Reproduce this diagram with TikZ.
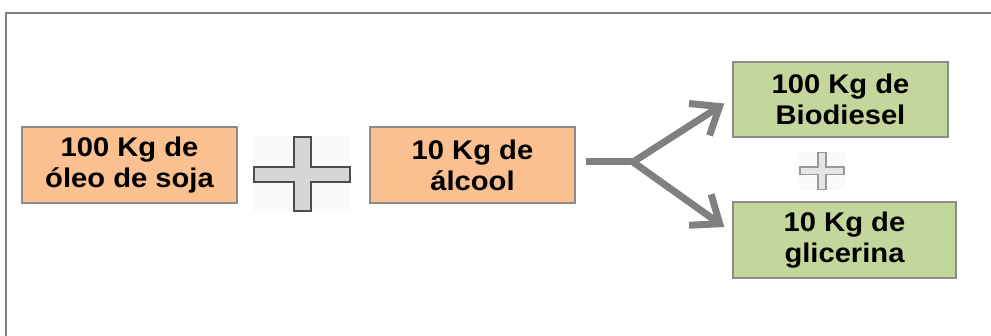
\documentclass[tikz,border=0pt]{standalone}
\usepackage{fontspec}
\setmainfont{Liberation Sans}[FakeStretch=1.08]
\usepackage{xcolor}
\usetikzlibrary{arrows.meta,calc}

\definecolor{reagentfill}{HTML}{FAC090}
\definecolor{productfill}{HTML}{C3D69B}
\definecolor{boxline}{HTML}{8C8C8C}
\definecolor{flowgray}{HTML}{808080}

\tikzset{
  box/.style={draw=boxline, line width=1.5pt, align=center, inner sep=0pt,
    font=\fontsize{27}{31}\selectfont\bfseries},
  reagent/.style={box, fill=reagentfill},
  product/.style={box, fill=productfill},
  flow/.style={draw=flowgray, line width=7pt,
    -{Straight Barb[length=24pt,width=38pt,line width=7pt]}},
  pics/plus sign/.style={code={
    \fill[black!2] (-49,-38) rectangle (49,38);
    \draw[#1, line join=miter] (-48,-7.5) -- (-8.5,-7.5) -- (-8.5,-37) -- (8.5,-37)
      -- (8.5,-7.5) -- (48,-7.5) -- (48,7.5) -- (8.5,7.5) -- (8.5,37)
      -- (-8.5,37) -- (-8.5,7.5) -- (-48,7.5) -- cycle;
  }}
}

\begin{document}
\begin{tikzpicture}[x=1pt,y=-1pt]
\useasboundingbox (0,0) rectangle (991,336);

% outer frame
\draw[black!50, line width=2pt] (6,336) -- (6,13) -- (991,13);

% reagents
\node[reagent, minimum width=215pt, minimum height=76pt] (oil) at (129.5,165)
  {100 Kg de\\óleo de soja};
\node[reagent, minimum width=205pt, minimum height=76pt] (alcohol) at (472.5,165)
  {10 Kg de\\álcool};

% products
\node[product, minimum width=215pt, minimum height=75pt] (biodiesel) at (840.5,99.5)
  {100 Kg de\\Biodiesel};
\node[product, minimum width=223pt, minimum height=76pt] (glycerin) at (844.5,240)
  {10 Kg de\\glicerina};

% plus signs
\pic at (302,174.5) {plus sign={draw=black!70, line width=2pt, fill=black!16}};
\pic[xscale=0.46, yscale=0.5] at (822,171)
  {plus sign={draw=black!40, line width=1.5pt, fill=black!10}};

% reaction arrows
\coordinate (fork) at (633,162);
\draw[draw=flowgray, line width=7pt] ([shift={(10,-3)}]alcohol.east) -- (fork);
\draw[flow] (fork) -- ([shift={(-8,4)}]biodiesel.west);
\draw[flow] (fork) -- ([shift={(-8,-13)}]glycerin.west);

\end{tikzpicture}
\end{document}
